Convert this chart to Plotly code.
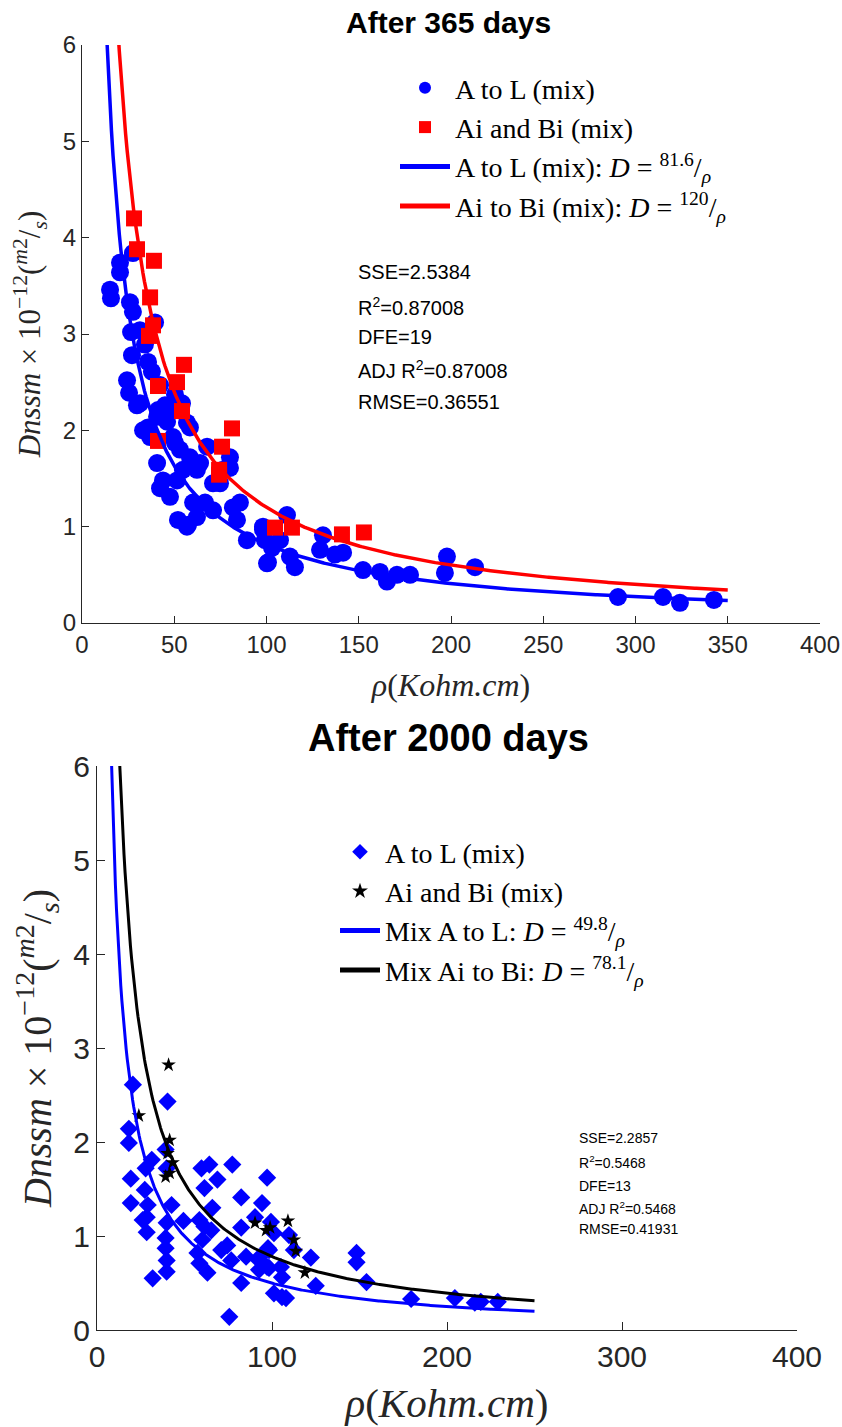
import numpy as np
import plotly.graph_objects as go

W, H = 842, 1427

# ---------------- Data: After 365 days ----------------
rho_AL_365 = [15.2, 15.7, 20.6, 20.6, 26.0, 27.6, 27.6, 26.6, 27.1, 24.4, 25.5, 29.8, 35.8, 37.9,
              39.6, 36.9, 35.8, 40.7, 42.3, 47.7, 52.0, 57.5, 50.4, 53.1, 58.5, 62.3, 67.8, 71.0,
              80.2, 80.2, 60.2, 71.0, 85.6, 84.0, 89.4, 98.1, 54.2, 56.9, 41.2, 42.3, 45.0, 47.7,
              34.1, 31.4, 54.7, 74.8, 56.9, 100.3, 98.1, 111.1, 112.7, 115.4, 107.3, 129.0, 130.6,
              141.5, 152.3, 161.5, 165.3, 170.7, 177.8, 197.8, 196.7, 213.0, 290.5, 314.9, 324.1,
              342.5, 99.2, 103.0, 137.1, 100.8, 50.4, 31.4, 40.7, 33.1, 46.1, 49.3, 58.5, 64.0,
              51.5, 43.9, 76.4, 81.8, 66.7, 62.3]
D_AL_365 = [3.46, 3.37, 3.74, 3.64, 3.33, 3.23, 3.84, 3.02, 2.78, 2.52, 2.39, 2.26, 2.71, 2.61,
            3.12, 1.93, 2.03, 1.66, 1.40, 1.31, 1.07, 1.02, 1.87, 1.80, 1.72, 1.59, 1.83, 1.45,
            1.72, 1.61, 1.25, 1.17, 1.25, 1.07, 0.86, 0.97, 2.28, 2.08, 2.21, 2.47, 2.26, 2.21,
            2.89, 3.04, 1.59, 1.45, 1.00, 0.62, 1.00, 1.12, 0.69, 0.58, 0.86, 0.76, 0.91,
            0.73, 0.55, 0.53, 0.43, 0.50, 0.50, 0.69, 0.52, 0.58, 0.27, 0.27, 0.21,
            0.24, 0.86, 0.78, 0.71, 0.63, 2.37, 2.28, 2.14, 2.00, 2.09, 1.93, 2.03, 1.66,
            1.48, 1.48, 1.59, 1.20, 1.25, 1.10]

rho_AiBi_365 = [28.2, 29.8, 39.0, 36.9, 38.5, 36.3, 55.3, 51.5, 41.2, 54.2, 41.2, 81.3, 75.9,
                74.3, 74.3, 104.6, 113.8, 140.9, 152.8]
D_AiBi_365 = [4.20, 3.88, 3.76, 3.38, 3.09, 2.98, 2.68, 2.50, 2.46, 2.20, 1.89, 2.02, 1.83,
              1.59, 1.54, 0.99, 0.99, 0.92, 0.94]

coef_AL_365 = 81.6
coef_AiBi_365 = 120.0
rho_fit_range_365 = (10, 350)

# ---------------- Data: After 2000 days ----------------
rho_AL_2000 = [20.5, 18.2, 18.2, 40.3, 19.3, 19.3, 27.8, 31.3, 27.3, 29.0, 28.4, 26.1, 28.4, 31.8,
               39.2, 39.8, 42.6, 39.8, 39.2, 39.2, 39.8, 39.8, 49.4, 59.7, 64.2, 68.8, 61.4, 65.9,
               58.5, 61.4, 65.3, 60.2, 57.4, 58.5, 63.1, 71.0, 74.4, 76.7, 77.3, 82.4, 82.4, 85.2,
               82.4, 75.6, 94.3, 97.2, 90.3, 99.4, 98.3, 92.6, 92.6, 98.3, 101.1, 105.7, 105.7,
               101.1, 97.7, 92.6, 97.2, 109.7, 112.5, 122.2, 105.1, 125.0, 108.0, 148.3, 148.3,
               154.0, 179.5, 204.5, 215.9, 219.3, 229.0]
D_AL_2000 = [2.61, 2.14, 1.99, 2.43, 1.61, 1.35, 1.72, 1.81, 1.49, 1.33, 1.20, 1.17, 1.04, 0.55,
             1.92, 1.72, 1.33, 1.14, 0.98, 0.87, 0.74, 0.62, 1.16, 1.72, 1.76, 1.60, 1.51, 1.30,
             1.17, 1.10, 1.06, 0.96, 0.82, 0.71, 0.61, 0.85, 0.90, 0.74, 1.76, 1.41, 1.09, 0.78,
             0.50, 0.14, 1.35, 1.62, 1.20, 1.15, 0.85, 0.74, 0.64, 0.66, 0.39, 0.35, 0.56,
             1.03, 0.87, 0.77, 0.67, 1.01, 0.85, 0.77, 0.67, 0.47, 0.34, 0.82, 0.72,
             0.51, 0.33, 0.34, 0.29, 0.30, 0.30]

rho_AiBi_2000 = [40.9, 23.9, 41.5, 40.3, 43.2, 41.5, 39.2, 90.3, 96.6, 98.9, 109.1, 112.5, 113.6, 118.8]
D_AiBi_2000 = [2.82, 2.28, 2.02, 1.88, 1.78, 1.67, 1.63, 1.14, 1.06, 1.09, 1.16, 0.96, 0.84, 0.61]

coef_AL_2000 = 49.8
coef_AiBi_2000 = 78.1
rho_fit_range_2000 = (5, 250)

x_ticks_365 = [0, 50, 100, 150, 200, 250, 300, 350, 400]
x_ticks_2000 = [0, 100, 200, 300, 400]
y_ticks = [0, 1, 2, 3, 4, 5, 6]

stats_365 = ["SSE=2.5384", "R<sup>2</sup>=0.87008", "DFE=19", "ADJ R<sup>2</sup>=0.87008", "RMSE=0.36551"]
stats_2000 = ["SSE=2.2857", "R<sup>2</sup>=0.5468", "DFE=13", "ADJ R<sup>2</sup>=0.5468", "RMSE=0.41931"]

# ---------------- Styles ----------------
SERIF = "Liberation Serif, Times New Roman, serif"
SANS = "Liberation Sans, Arial, Helvetica, sans-serif"
AX = "#262626"


def px(p):
    return p / W


def py(p):
    return 1 - p / H


rho_f1 = np.linspace(*rho_fit_range_365, 400)
rho_f2 = np.linspace(*rho_fit_range_2000, 400)

fig = go.Figure()

# top panel
fig.add_trace(go.Scatter(x=rho_AL_365, y=D_AL_365, mode="markers", name="A to L (mix)",
                         marker=dict(symbol="circle", size=18, color="#0000ff", line=dict(width=0)),
                         xaxis="x", yaxis="y", legend="legend"))
fig.add_trace(go.Scatter(x=rho_AiBi_365, y=D_AiBi_365, mode="markers", name="Ai and Bi (mix)",
                         marker=dict(symbol="square", size=16, color="#ff0000", line=dict(width=0)),
                         xaxis="x", yaxis="y", legend="legend"))
fig.add_trace(go.Scatter(x=rho_f1, y=coef_AL_365 / rho_f1, mode="lines",
                         name="A to L (mix): <i>D</i> = <sup>81.6</sup>/<sub><i>ρ</i></sub>",
                         line=dict(color="#0000ff", width=3.5), xaxis="x", yaxis="y", legend="legend"))
fig.add_trace(go.Scatter(x=rho_f1, y=coef_AiBi_365 / rho_f1, mode="lines",
                         name="Ai to Bi (mix): <i>D</i> = <sup>120</sup>/<sub><i>ρ</i></sub>",
                         line=dict(color="#ff0000", width=3.5), xaxis="x", yaxis="y", legend="legend"))

# bottom panel
fig.add_trace(go.Scatter(x=rho_AL_2000, y=D_AL_2000, mode="markers", name="A to L (mix)",
                         marker=dict(symbol="diamond", size=14, color="#0000ff", line=dict(width=0)),
                         xaxis="x2", yaxis="y2", legend="legend2"))
fig.add_trace(go.Scatter(x=rho_AiBi_2000, y=D_AiBi_2000, mode="markers", name="Ai and Bi (mix)",
                         marker=dict(symbol="star", size=11, color="#000000", line=dict(width=0)),
                         xaxis="x2", yaxis="y2", legend="legend2"))
fig.add_trace(go.Scatter(x=rho_f2, y=coef_AL_2000 / rho_f2, mode="lines",
                         name="Mix A to L: <i>D</i> = <sup>49.8</sup>/<sub><i>ρ</i></sub>",
                         line=dict(color="#0000ff", width=3), xaxis="x2", yaxis="y2", legend="legend2"))
fig.add_trace(go.Scatter(x=rho_f2, y=coef_AiBi_2000 / rho_f2, mode="lines",
                         name="Mix Ai to Bi: <i>D</i> = <sup>78.1</sup>/<sub><i>ρ</i></sub>",
                         line=dict(color="#000000", width=3), xaxis="x2", yaxis="y2", legend="legend2"))

ytitle = "<i>Dnssm</i> × 10<sup>−12</sup>(<sup><i>m</i>2</sup>/<sub><i>s</i></sub>)"
xtitle = "<i>ρ</i>(<i>Kohm.cm</i>)"


def axis_common(tickfont_size, ticklen):
    return dict(showline=True, linecolor=AX, linewidth=1.3, ticks="inside", ticklen=ticklen,
                tickwidth=1.2, tickcolor=AX, showgrid=False, zeroline=False, mirror=False,
                automargin=False,
                tickfont=dict(family=SANS, size=tickfont_size, color=AX))


fig.update_layout(
    width=W, height=H, margin=dict(l=0, r=0, t=0, b=0, autoexpand=False),
    paper_bgcolor="white", plot_bgcolor="white",
    xaxis=dict(domain=[px(82), px(820)], range=[0, 400], tickvals=x_ticks_365, anchor="y",
               title=dict(text=xtitle, font=dict(family=SERIF, size=32, color=AX), standoff=16),
               **axis_common(24, 7)),
    yaxis=dict(domain=[py(623), py(45)], range=[0, 6], tickvals=y_ticks, anchor="x",
               title=dict(text=ytitle, font=dict(family=SERIF, size=31, color=AX), standoff=12),
               **axis_common(24, 7)),
    xaxis2=dict(domain=[px(97), px(797)], range=[0, 400], tickvals=x_ticks_2000, anchor="y2",
                title=dict(text=xtitle, font=dict(family=SERIF, size=41, color=AX), standoff=16),
                **axis_common(30, 8)),
    yaxis2=dict(domain=[py(1330), py(766)], range=[0, 6], tickvals=y_ticks, anchor="x2",
                title=dict(text=ytitle, font=dict(family=SERIF, size=40, color=AX), standoff=9),
                **axis_common(30, 8)),
    legend=dict(x=px(395), y=py(63), xanchor="left", yanchor="top", bgcolor="rgba(0,0,0,0)",
                font=dict(family=SERIF, size=28, color="#000000"), itemwidth=50,
                itemsizing="constant", tracegroupgap=0),
    legend2=dict(x=px(335), y=py(827), xanchor="left", yanchor="top", bgcolor="rgba(0,0,0,0)",
                 font=dict(family=SERIF, size=28, color="#000000"), itemwidth=40,
                 itemsizing="constant", tracegroupgap=0),
    showlegend=True,
)

annotations = [
    dict(text="<b>After 365 days</b>", x=px(448), y=py(22), xref="paper", yref="paper",
         xanchor="center", yanchor="middle",
         showarrow=False, font=dict(family=SANS, size=30, color="#000000")),
    dict(text="<b>After 2000 days</b>", x=px(448), y=py(738), xref="paper", yref="paper",
         xanchor="center", yanchor="middle",
         showarrow=False, font=dict(family=SANS, size=38, color="#000000")),
]
for s, yy in zip(stats_365, [272, 306, 337, 370, 402]):
    annotations.append(dict(text=s, x=px(356), y=py(yy), xref="paper", yref="paper",
                            xanchor="left", yanchor="middle", showarrow=False,
                            font=dict(family=SANS, size=20, color="#000000")))
for s, yy in zip(stats_2000, [1138, 1162, 1186, 1208, 1229]):
    annotations.append(dict(text=s, x=px(577), y=py(yy), xref="paper", yref="paper",
                            xanchor="left", yanchor="middle", showarrow=False,
                            font=dict(family=SANS, size=14, color="#000000")))
fig.update_layout(annotations=annotations)

fig.write_html("out.html", config={"displayModeBar": False},
               post_script="document.body.style.margin='0px';document.body.style.overflow='hidden';")
